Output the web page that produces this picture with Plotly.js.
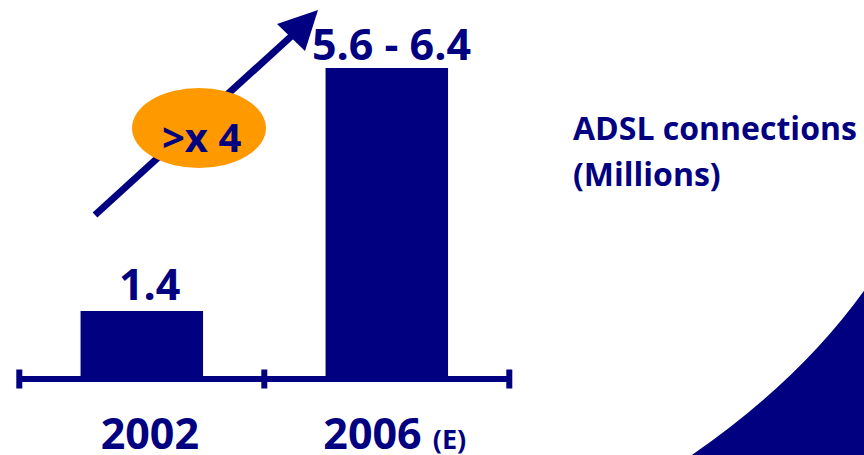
<!DOCTYPE html>
<html>
<head>
<meta charset="utf-8">
<script src="https://cdn.plot.ly/plotly-3.0.1.min.js"></script>
<style>html,body{margin:0;padding:0;background:#fff;}#chart{width:864px;height:455px;}</style>
</head>
<body>
<div id="chart"></div>
<script>
// ---- data ----
const categories = ['2002', '2006'];
const tickLabels = ['2002', '2006 <span style="font-size:27px">(E)</span>'];
const values = [1.4, 6.4];
const valueLabels = ['1.4', '5.6 - 6.4'];
const growthLabel = '>x 4';
const seriesTitleLines = ['ADSL connections', '(Millions)'];

// ---- style ----
const NAVY = '#000080';
const ORANGE = '#FF9900';
const FONT = '"Open Sans", "Noto Sans", sans-serif';
const W = 864, H = 455;
const px = x => x / W;
const py = y => 1 - y / H;
const pathFrom = pts => 'M ' + pts.map(p => px(p[0]).toFixed(5) + ',' + py(p[1]).toFixed(5)).join(' L ') + ' Z';

const yDom = [py(379), py(38.8)];

const trace = {
  type: 'bar',
  x: categories,
  y: values,
  marker: {color: NAVY, line: {width: 0}},
  hoverinfo: 'none'
};

const shapes = [];
// decorative corner swoosh (bottom right)
shapes.push({
  type: 'path', xref: 'paper', yref: 'paper', layer: 'below',
  path: 'M ' + px(866) + ',' + py(288) + ' Q ' + px(800) + ',' + py(381) + ' ' + px(689) + ',' + py(457) +
        ' L ' + px(866) + ',' + py(457) + ' Z',
  fillcolor: NAVY, line: {width: 0}
});
// axis baseline and its end / middle ticks (category boundaries)
shapes.push({type: 'line', xref: 'x', yref: 'paper', x0: -0.5, x1: categories.length - 0.5,
  y0: yDom[0], y1: yDom[0], line: {color: NAVY, width: 6}});
for (let i = 0; i <= categories.length; i++) {
  shapes.push({type: 'line', xref: 'x', yref: 'paper', x0: i - 0.5, x1: i - 0.5,
    y0: yDom[0] - 9.5 / H, y1: yDom[0] + 9.5 / H, line: {color: NAVY, width: 6}});
}
// growth arrow
shapes.push({type: 'line', xref: 'paper', yref: 'paper',
  x0: px(95), y0: py(215), x1: px(297), y1: py(31), line: {color: NAVY, width: 7}});
shapes.push({type: 'path', xref: 'paper', yref: 'paper',
  path: pathFrom([[277, 24], [318, 10], [305, 51]]), fillcolor: NAVY, line: {width: 0}});
// orange ellipse on top of the arrow
shapes.push({type: 'circle', xref: 'paper', yref: 'paper',
  x0: px(132), x1: px(266), y0: py(168), y1: py(88), fillcolor: ORANGE, line: {width: 0}});

const bigFont = {family: FONT, size: 43, color: NAVY, weight: 'bold'};

const annotations = values.map((v, i) => ({
  x: i, y: v, xref: 'x', yref: 'y', text: valueLabels[i],
  showarrow: false, xanchor: 'center', yanchor: 'bottom',
  xshift: i === 0 ? 8 : 5, yshift: i === 0 ? -4 : -7, font: bigFont
}));
annotations.push({
  x: px(201), y: py(136), xref: 'paper', yref: 'paper', text: growthLabel,
  showarrow: false, xanchor: 'center', yanchor: 'middle',
  font: {family: FONT, size: 40, color: NAVY, weight: 'bold'}
});
seriesTitleLines.forEach((t, i) => annotations.push({
  x: px(571), y: py(127 + i * 46), xref: 'paper', yref: 'paper', text: t,
  showarrow: false, xanchor: 'left', yanchor: 'middle', align: 'left',
  font: {family: FONT, size: 32, color: NAVY, weight: 'bold'}
}));

const layout = {
  width: W, height: H,
  margin: {l: 0, r: 0, t: 0, b: 0, pad: 0},
  paper_bgcolor: '#ffffff', plot_bgcolor: 'rgba(0,0,0,0)',
  showlegend: false,
  bargap: 0.5,
  xaxis: {
    domain: [px(14.4), px(514.2)],
    type: 'category',
    range: [-0.52, 1.52],
    tickvals: categories, ticktext: tickLabels,
    ticks: '', showline: false, showgrid: false, zeroline: false,
    ticklabelshift: 8, ticklabelstandoff: 26,
    tickfont: bigFont, fixedrange: true
  },
  yaxis: {
    domain: yDom, range: [0, 7],
    showticklabels: false, ticks: '', showline: false, showgrid: false, zeroline: false,
    fixedrange: true
  },
  shapes: shapes,
  annotations: annotations
};

Plotly.newPlot('chart', [trace], layout, {displayModeBar: false, staticPlot: true});
</script>
</body>
</html>
